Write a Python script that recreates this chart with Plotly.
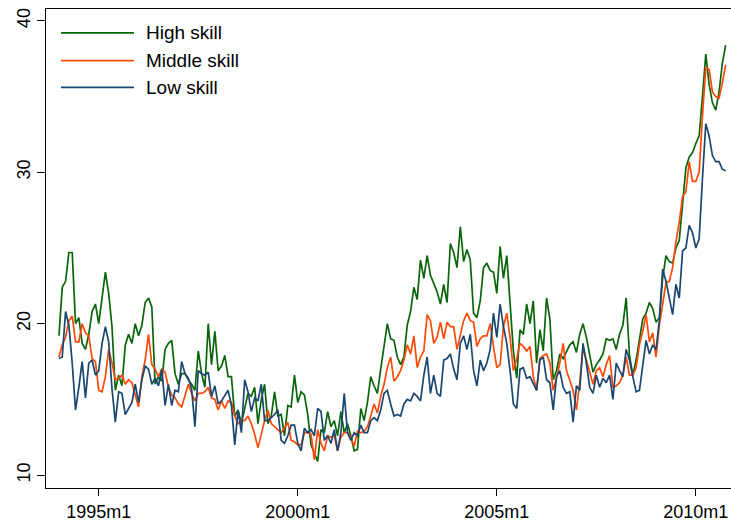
import plotly.graph_objects as go

# Monthly series, 1994m1 onward (Stata %tm: months since 1960m1)
start_year = 1994
series_names = ["High skill", "Middle skill", "Low skill"]
series_colors = ["#0a650a", "#ff4a0a", "#1a476f"]

high_skill = [
    19.2, 22.4, 22.8, 24.7, 24.7, 20.0, 20.4, 18.7, 18.3, 19.3, 20.8, 21.3,
    20.0, 21.6, 23.4, 22.0, 19.8, 15.6, 16.6, 15.9, 18.6, 19.3, 18.7, 20.0,
    19.2, 19.9, 21.4, 21.7, 21.1, 16.0, 16.5, 16.2, 18.3, 18.7, 18.9, 16.7,
    16.0, 16.7, 16.7, 16.3, 16.0, 15.6, 18.2, 16.7, 15.8, 20.0, 17.3, 19.5,
    16.9, 17.2, 17.9, 16.5, 16.5, 13.9, 14.3, 13.4, 14.5, 15.4, 15.2, 15.8,
    13.4, 15.0, 16.0, 13.4, 13.9, 15.5, 13.9, 14.0, 12.6, 14.6, 14.5, 16.6,
    14.8, 15.5, 15.3, 14.0, 12.0, 11.4, 10.9, 13.0, 12.8, 14.2, 13.2, 13.6,
    12.6, 14.2, 12.8, 13.4, 12.6, 11.6, 11.7, 14.4, 13.6, 14.8, 16.5, 15.9,
    15.4, 17.0, 18.4, 20.0, 19.0, 18.9, 17.8, 17.3, 17.8, 19.9, 20.8, 22.4,
    21.6, 24.2, 23.0, 24.5, 23.2, 22.7, 22.1, 21.3, 22.6, 21.4, 25.3, 24.7,
    23.7, 26.4, 24.1, 24.9, 24.2, 20.7, 20.4, 21.5, 23.7, 24.0, 23.5, 23.4,
    22.0, 25.1, 23.0, 24.5, 21.1, 18.2, 16.4, 19.6, 19.3, 21.3, 20.0, 21.5,
    17.4, 19.6, 18.2, 21.7, 20.3, 16.3, 16.9, 18.0, 17.7, 18.2, 18.6, 18.8,
    18.1, 19.3, 20.0, 19.1, 17.8, 16.8, 17.3, 17.6, 18.0, 19.0, 18.9, 19.0,
    18.3, 19.3, 19.9, 21.7, 17.9, 16.6, 17.6, 19.1, 20.3, 20.7, 21.4, 21.0,
    20.1, 20.4, 23.0, 24.5, 24.1, 24.0, 25.0, 25.5, 28.2, 30.3, 31.0, 31.3,
    31.9, 32.4, 35.0, 37.8, 35.8, 34.6, 34.1, 35.3, 37.2, 38.4,
]

middle_skill = [
    17.8, 18.6, 19.1, 20.2, 20.5, 18.8, 18.8, 20.0, 19.4, 19.2, 17.7, 17.5,
    15.6, 15.5, 16.5, 18.3, 17.4, 16.3, 16.4, 16.6, 16.0, 16.3, 16.1, 15.2,
    14.5, 16.5, 17.6, 19.3, 17.3, 17.0, 16.5, 17.0, 16.8, 15.8, 15.3, 15.1,
    14.7, 14.5, 15.2, 16.0, 15.4, 14.9, 15.4, 15.4, 15.5, 15.8, 15.1, 15.0,
    14.3, 14.9, 14.4, 14.9, 14.8, 13.9, 13.4, 13.6, 13.6, 13.9, 13.4, 12.7,
    11.8, 12.8, 13.6, 14.3, 13.4, 13.2, 13.0, 12.8, 13.1, 13.5, 12.3, 12.2,
    12.0, 12.0, 12.8, 12.8, 12.7, 11.0, 13.0, 12.1, 11.6, 12.6, 12.5, 12.6,
    11.6, 12.5, 12.8, 12.8, 12.5, 11.9, 12.9, 12.8, 12.9, 13.2, 13.9, 14.7,
    14.1, 15.2, 16.0, 17.1, 17.8, 16.2, 16.5, 16.9, 17.6, 18.6, 18.0, 19.2,
    17.1, 17.8, 18.2, 20.6, 20.2, 18.7, 19.1, 20.1, 19.0, 20.1, 19.8, 19.8,
    18.3, 19.3, 20.2, 20.7, 20.2, 20.1, 18.5, 19.0, 19.2, 19.2, 20.0, 18.5,
    17.1, 17.3, 19.8, 20.7, 19.1, 16.9, 17.7, 18.7, 18.5, 18.2, 18.5, 16.5,
    15.6, 17.7, 17.9, 18.0, 17.4, 15.6, 16.4, 17.4, 18.7, 16.9, 16.3, 15.6,
    14.3, 16.1, 18.4, 17.6, 16.7, 16.0, 16.9, 17.1, 16.5, 17.3, 17.9, 15.8,
    15.9, 16.1, 16.6, 17.8, 16.6, 16.6, 17.1, 18.6, 19.5, 20.6, 18.8, 19.4,
    17.8, 19.9, 21.3, 22.7, 22.8, 23.7, 25.4, 26.7, 28.4, 28.7, 30.7, 29.4,
    29.4, 30.0, 33.7, 36.9, 36.8, 35.3, 35.0, 34.9, 35.9, 37.1,
]

low_skill = [
    17.7, 17.8, 20.8, 19.9, 17.4, 14.3, 15.8, 17.5, 15.1, 17.4, 17.6, 16.6,
    16.9, 18.7, 19.8, 18.8, 15.7, 13.5, 15.5, 15.4, 14.0, 14.4, 14.8, 16.0,
    14.8, 16.3, 17.2, 17.0, 16.0, 16.4, 15.9, 17.0, 14.6, 16.0, 14.6, 15.6,
    15.5, 17.5, 16.7, 16.4, 15.7, 13.2, 16.9, 16.7, 16.6, 16.8, 15.2, 15.9,
    14.7, 14.9, 15.3, 15.6, 14.6, 12.0, 14.3, 12.8, 16.3, 15.5, 14.2, 15.1,
    14.9, 16.0, 13.6, 13.6, 13.8, 14.0, 14.3, 12.3, 12.1, 12.6, 13.3, 13.3,
    12.1, 11.6, 13.1, 12.8, 13.0, 12.6, 14.4, 14.2, 12.3, 12.6, 12.1, 13.0,
    11.6, 12.8, 15.4, 12.8, 12.3, 12.8, 12.6, 13.3, 12.8, 12.8, 13.6, 13.8,
    13.6, 14.3, 15.4, 15.6, 14.7, 13.9, 14.0, 13.9, 14.7, 15.0, 14.9, 15.4,
    15.2, 14.9, 16.6, 17.8, 15.4, 16.6, 15.4, 15.2, 17.6, 17.7, 18.0, 17.0,
    16.3, 18.7, 19.2, 18.3, 19.3, 16.9, 15.9, 17.6, 16.9, 17.4, 18.3, 20.7,
    19.1, 21.3, 19.8, 18.7, 16.9, 14.7, 14.4, 17.0, 17.1, 16.4, 16.5, 16.1,
    15.6, 17.6, 17.8, 16.3, 16.1, 14.3, 16.5, 16.9, 15.8, 15.4, 15.5, 13.5,
    15.9, 15.6, 18.7, 17.4, 15.8, 15.4, 16.6, 15.8, 16.4, 16.1, 16.6, 15.0,
    17.4, 16.9, 16.5, 18.3, 17.6, 16.5, 15.5, 15.6, 17.4, 18.9, 18.0, 18.6,
    18.3, 20.2, 23.6, 22.8, 21.7, 20.6, 22.6, 21.7, 24.8, 25.0, 26.5, 26.0,
    25.0, 25.6, 29.6, 33.2, 32.4, 31.1, 30.7, 30.7, 30.2, 30.1,
]

x_tick_labels = ["1995m1", "2000m1", "2005m1", "2010m1"]
y_tick_values = [10, 20, 30, 40]


def tm(label):
    """Stata monthly date label -> months since 1960m1."""
    year, month = label.split("m")
    return (int(year) - 1960) * 12 + int(month) - 1


first_month = (start_year - 1960) * 12
months = [first_month + k for k in range(len(high_skill))]

FONT = "Liberation Sans, Arial, Helvetica, sans-serif"

fig = go.Figure()
for name, color, values in zip(series_names, series_colors,
                               [high_skill, middle_skill, low_skill]):
    fig.add_trace(go.Scatter(
        x=months, y=values, mode="lines", name=name,
        line=dict(color=color, width=1.7),
        showlegend=False,
    ))

# Legend drawn as long line samples with labels, top-left inside the plot
legend_rows_y = [0.9503, 0.8923, 0.8364]
for name, color, ly in zip(series_names, series_colors, legend_rows_y):
    fig.add_shape(type="line", xref="paper", yref="paper",
                  x0=0.0219, x1=0.1285, y0=ly, y1=ly,
                  line=dict(color=color, width=1.7))
    fig.add_annotation(xref="paper", yref="paper", x=0.143, y=ly,
                       text=name, showarrow=False,
                       xanchor="left", yanchor="middle",
                       font=dict(family=FONT, size=19, color="black"))

fig.update_layout(
    width=731, height=522,
    margin=dict(l=46, r=0, t=9, b=30),
    plot_bgcolor="white", paper_bgcolor="white",
    font=dict(family=FONT, size=17, color="black"),
    showlegend=False,
    xaxis=dict(
        range=[404.1, 610.6],
        tickvals=[tm(t) for t in x_tick_labels],
        ticktext=x_tick_labels,
        ticks="outside", ticklen=7, tickwidth=1, tickcolor="black",
        showline=True, linecolor="black", linewidth=1, mirror=True,
        showgrid=False, zeroline=False,
        tickfont=dict(family=FONT, size=18, color="black"),
    ),
    yaxis=dict(
        range=[9.15, 40.78],
        tickvals=y_tick_values,
        ticks="outside", ticklen=8, tickwidth=1, tickcolor="black",
        tickangle=-90,
        showline=True, linecolor="black", linewidth=1,
        showgrid=False, zeroline=False,
        tickfont=dict(family=FONT, size=18, color="black"),
    ),
)

fig.write_html("out.html")
